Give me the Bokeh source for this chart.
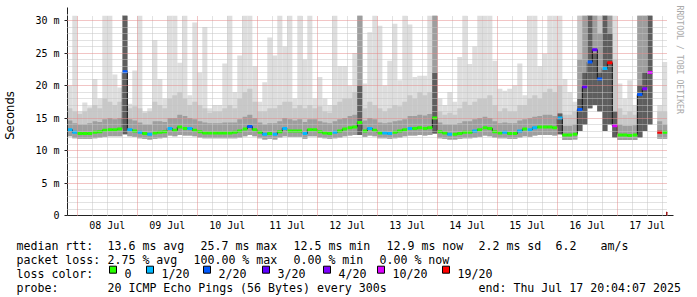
import math
from bokeh.plotting import figure
from bokeh.layouts import column
from bokeh.models import (ColumnDataSource, FixedTicker, Grid, Title, Arrow, NormalHead, Range1d)
from bokeh.core.properties import value
from bokeh.embed import file_html
from bokeh.resources import INLINE

NaN = float("nan")

# ---------------- data: 2-hour bins, hours counted from 07 Jul 00:00 ----------------
FIRST_HOUR = 20
BIN_HOURS = 2

median_ms = [
    13.2, 12.8, 12.6, 12.6, 12.6, 12.8, 12.9, 13.1, 13.2, 13.2,
    13.3, 22.1, 13.2, 13.0, 12.8, 12.6, 12.5, 12.7, 12.8, 12.9,
    13.4, 13.1, 13.6, 13.4, 13.4, 13.1, 12.9, 12.7, 12.7, 12.7,
    12.7, 12.7, 12.7, 12.8, 13.0, 13.3, 13.7, 13.2, 12.8, 12.5,
    12.6, 12.5, 12.9, 13.4, 13.0, 13.0, 13.0, 12.6, 13.2, 13.2,
    12.9, 12.7, 12.6, 12.8, 13.0, 13.3, 13.5, 13.6, 14.3, 13.0,
    13.4, 13.1, 12.7, 12.7, 12.6, 12.8, 13.0, 13.2, 13.4, 13.4,
    13.5, 13.4, 13.5, 15.0, 12.9, 12.7, 12.5, 12.5, 12.6, 12.8,
    12.8, 13.0, 13.2, 13.5, 13.4, 12.9, 12.7, 12.8, 12.6, 12.6,
    13.0, 13.3, 13.2, 13.5, 13.6, 13.6, 13.6, 13.5, 15.0, 12.4,
    12.4, 12.5, 16.3, 19.8, 23.6, 25.5, 21.0, 22.6, 23.5, 13.8,
    12.4, 12.4, 12.3, 12.4, 18.6, 19.5, 22.0, None, 12.8, 12.8,
]
lost_pings = [
    1, 1, 0, 0, 0, 0, 0, 0, 0, 0,
    0, 2, 1, 0, 1, 0, 1, 0, 0, 0,
    1, 0, 0, 0, 1, 0, 0, 0, 0, 0,
    0, 0, 0, 0, 0, 0, 2, 0, 0, 1,
    0, 1, 0, 1, 0, 0, 0, 1, 0, 0,
    0, 0, 0, 1, 0, 0, 0, 0, 0, 0,
    1, 0, 0, 1, 1, 0, 0, 0, 1, 0,
    0, 0, 0, 0, 0, 0, 1, 0, 0, 0,
    0, 1, 0, 0, 0, 0, 0, 1, 0, 0,
    1, 0, 1, 1, 0, 0, 0, 0, 1, 0,
    0, 0, 2, 3, 2, 3, 2, 1, 19, 10,
    0, 0, 0, 0, 2, 4, 10, 0, 19, 0,
]
smoke_min = [
    12.2, 11.9, 11.8, 11.8, 11.8, 11.9, 12.0, 12.1, 12.2, 12.2,
    12.2, 12.5, 12.2, 12.1, 11.9, 11.8, 11.7, 11.8, 11.9, 12.0,
    12.3, 12.2, 12.4, 12.3, 12.3, 12.2, 12.0, 11.9, 11.9, 11.9,
    11.9, 11.9, 11.9, 11.9, 12.0, 12.2, 12.4, 12.2, 11.9, 11.7,
    11.8, 11.7, 12.0, 12.2, 12.1, 12.1, 12.1, 11.8, 12.2, 12.2,
    12.0, 11.9, 11.8, 11.9, 12.0, 12.2, 12.3, 12.4, 12.4, 12.1,
    12.3, 12.2, 11.9, 11.9, 11.8, 11.9, 12.0, 12.2, 12.3, 12.3,
    12.4, 12.3, 12.4, 12.6, 11.9, 11.8, 11.7, 11.7, 11.8, 11.9,
    11.9, 12.0, 12.1, 12.3, 12.2, 12.0, 11.9, 11.9, 11.8, 11.8,
    12.0, 12.2, 12.1, 12.3, 12.4, 12.4, 12.4, 12.3, 12.5, 11.6,
    11.6, 11.7, 13.0, 14.0, 16.5, 17.0, 16.0, 13.0, 14.0, 12.0,
    11.6, 11.6, 11.6, 11.6, 12.0, 13.0, 14.0, None, 11.8, 11.8,
]
smoke_p75 = [
    14.6, 14.2, 14.0, 14.0, 14.2, 14.5, 14.4, 14.8, 15.0, 14.8,
    15.0, 31.0, 14.8, 14.6, 14.3, 14.0, 14.0, 14.5, 14.5, 14.4,
    15.0, 15.0, 15.5, 15.3, 15.0, 14.8, 14.5, 14.3, 14.2, 14.2,
    14.2, 14.3, 14.3, 14.3, 14.8, 15.2, 15.5, 15.0, 14.3, 14.0,
    14.2, 14.2, 14.5, 15.0, 14.8, 14.6, 14.8, 14.4, 14.8, 14.8,
    14.5, 14.3, 14.2, 14.5, 14.8, 15.0, 15.3, 15.5, 31.0, 14.6,
    15.0, 14.8, 14.3, 14.2, 14.3, 14.5, 14.6, 14.8, 15.3, 15.3,
    15.5, 15.4, 15.6, 31.0, 14.3, 14.0, 14.0, 14.0, 14.2, 14.5,
    14.5, 14.8, 15.0, 15.2, 15.0, 14.5, 14.2, 14.3, 14.2, 14.2,
    14.6, 14.8, 15.0, 15.2, 15.3, 15.5, 15.5, 15.3, 15.7, 13.8,
    13.8, 14.0, 24.0, 31.0, 31.0, 31.0, 28.0, 31.0, 31.0, 16.0,
    14.0, 13.8, 13.8, 13.9, 31.0, 31.0, 31.0, None, 14.5, 14.0,
]
smoke_p90 = [
    16.5, 16.0, 15.6, 16.0, 16.5, 17.0, 16.5, 18.0, 17.5, 17.0,
    17.5, 31.0, 16.5, 16.8, 16.5, 15.8, 16.0, 17.5, 17.0, 16.5,
    18.0, 18.5, 19.0, 18.0, 17.0, 17.5, 17.0, 16.5, 15.8, 16.0,
    16.0, 16.5, 17.0, 16.5, 18.0, 19.0, 19.5, 17.5, 16.0, 16.0,
    16.5, 16.5, 17.0, 17.5, 17.5, 16.5, 17.0, 16.5, 17.0, 16.5,
    16.8, 16.0, 15.8, 17.0, 17.5, 18.0, 18.0, 19.0, 31.0, 16.5,
    17.5, 17.0, 16.5, 16.0, 16.5, 17.0, 16.8, 17.5, 18.5, 18.0,
    19.0, 18.5, 19.0, 31.0, 16.0, 15.5, 15.8, 15.5, 16.5, 17.5,
    17.0, 17.5, 18.0, 18.0, 18.5, 17.0, 16.0, 16.5, 16.0, 16.0,
    17.0, 17.0, 18.0, 18.5, 18.0, 19.0, 19.5, 19.0, 20.0, 15.5,
    15.5, 16.0, 31.0, 31.0, 31.0, 31.0, 31.0, 31.0, 31.0, 24.0,
    16.5, 15.5, 16.0, 15.5, 31.0, 31.0, 31.0, None, 16.0, 16.0,
]
smoke_max = [
    20.0, 31.0, 16.0, 17.4, 16.8, 21.0, 18.0, 31.0, 31.0, 21.7,
    19.7, 31.0, 17.2, 22.3, 31.0, 16.0, 16.5, 27.0, 21.0, 18.0,
    31.0, 31.0, 23.5, 31.0, 18.5, 29.7, 22.0, 29.0, 16.5, 17.0,
    17.0, 23.4, 31.0, 19.0, 24.6, 31.0, 31.0, 23.0, 17.5, 20.5,
    27.4, 24.6, 31.0, 26.0, 31.0, 18.0, 31.0, 24.0, 31.0, 18.0,
    21.3, 18.0, 17.0, 31.0, 23.0, 23.0, 20.0, 25.0, 31.0, 20.3,
    28.2, 31.0, 29.2, 20.0, 23.8, 29.5, 20.8, 31.0, 29.4, 21.3,
    21.5, 21.5, 31.0, 31.0, 18.0, 17.0, 19.0, 17.5, 24.4, 31.0,
    23.3, 26.0, 31.0, 31.0, 31.0, 23.8, 19.5, 19.2, 19.5, 20.0,
    23.4, 18.5, 31.0, 31.0, 23.0, 24.9, 31.0, 31.0, 31.0, 21.0,
    19.0, 17.5, 31.0, 31.0, 31.0, 31.0, 31.0, 31.0, 31.0, 31.0,
    20.3, 18.0, 20.8, 17.0, 31.0, 31.0, 31.0, None, 17.0, 23.6,
]
smoke_core = [
    None, None, None, None, None, None, None, None, None, None,
    None, 31.0, None, None, None, None, None, None, None, None,
    None, None, None, None, None, None, None, None, None, None,
    None, None, None, None, None, None, None, None, None, None,
    None, None, None, None, None, None, None, None, None, None,
    None, None, None, None, None, None, None, None, 20.0, None,
    None, None, None, None, None, None, None, None, None, None,
    None, None, None, 22.0, None, None, None, None, None, None,
    None, None, None, None, None, None, None, None, None, None,
    None, None, None, None, None, None, None, None, 15.7, None,
    None, None, 18.0, 22.0, 31.0, 25.0, 22.0, 31.0, 28.0, 16.0,
    None, None, None, None, 20.0, 22.0, 31.0, None, None, None,
]

day_ticks = [36, 60, 84, 108, 132, 156, 180, 204, 228, 252]
day_labels = ["08 Jul", "09 Jul", "10 Jul", "11 Jul", "12 Jul",
              "13 Jul", "14 Jul", "15 Jul", "16 Jul", "17 Jul"]
y_ticks = [0, 5, 10, 15, 20, 25, 30]
y_labels = ["0", "5 m", "10 m", "15 m", "20 m", "25 m", "30 m"]

loss_levels = [0, 1, 2, 3, 4, 10, 19]
loss_names = ["0", "1/20", "2/20", "3/20", "4/20", "10/20", "19/20"]
loss_colors = ["#26ff00", "#00b8ff", "#0059ff", "#5e00ff", "#7e00ff", "#dd00ff", "#ff0000"]

rtt_row = ["median rtt:", "13.6 ms avg", "25.7 ms max", "12.5 ms min", "12.9 ms now",
           "2.2 ms sd", "6.2", "am/s"]
loss_row = ["packet loss:", "2.75 % avg", "100.00 % max", "0.00 % min", "0.00 % now"]
probe_row = ["probe:", "20 ICMP Echo Pings (56 Bytes) every 300s", "end: Thu Jul 17 20:04:07 2025"]

# ---------------- layout constants (canvas pixels) ----------------
CANVAS_W, CANVAS_H = 697, 297
FRAME_L, FRAME_T, FRAME_W, FRAME_H = 67, 15, 600, 200
MAIN_H = 235
X_START = 20 + 4 / 60 + 7 / 3600
X_END = X_START + 240
Y_TOP = 30.77
MONO = "DejaVu Sans Mono"

def nz(v):
    return NaN if v is None else v

def loss_color(k):
    col = loss_colors[0]
    for lev, c in zip(loss_levels, loss_colors):
        if k >= lev:
            col = c
    return col

n = len(median_ms)
xs = [FIRST_HOUR + BIN_HOURS * (i + 0.5) for i in range(n)]
src = ColumnDataSource(dict(
    x=xs,
    med=[nz(v) for v in median_ms],
    lo=[nz(v) for v in smoke_min],
    p75=[nz(v) for v in smoke_p75],
    p90=[nz(v) for v in smoke_p90],
    mx=[nz(v) for v in smoke_max],
    core=[nz(v) for v in smoke_core],
    color=[loss_color(k) for k in lost_pings],
))

p = figure(frame_width=FRAME_W, frame_height=FRAME_H,
           x_range=Range1d(X_START, X_END), y_range=Range1d(0, Y_TOP),
           output_backend="svg", toolbar_location=None,
           min_border_left=FRAME_L, min_border_right=CANVAS_W - FRAME_L - FRAME_W,
           min_border_top=FRAME_T, min_border_bottom=MAIN_H - FRAME_T - FRAME_H,
           background_fill_color="white", border_fill_color="white",
           outline_line_color=None)
p.xgrid.visible = False
p.ygrid.visible = False

W = BIN_HOURS * 1.02
p.vbar(x="x", width=W, bottom="lo", top="mx", source=src, fill_color="#dedede", line_color=None)
p.vbar(x="x", width=W, bottom="lo", top="p90", source=src, fill_color="#c8c8c8", line_color=None)
p.vbar(x="x", width=W, bottom="lo", top="p75", source=src, fill_color="#9e9e9e", line_color=None)
p.vbar(x="x", width=W, bottom="lo", top="core", source=src, fill_color="#5e5e5e", line_color=None)
p.step(x="x", y="med", mode="center", source=src, line_color="#111111", line_width=1)
p.rect(x="x", y="med", width=W, height=3, height_units="screen", source=src,
       fill_color="color", line_color=None)

# grids (drawn on top like rrdtool)
minor_x = [h for h in range(24, 260, 6) if h % 24 != 0]
major_x = [h for h in range(24, 260, 24)]
minor_y = [v for v in range(1, 31) if v % 5 != 0]
major_y = [v for v in range(5, 31, 5)]
for dim, ticks, col in [(0, minor_x, "#c4c4c4"), (1, minor_y, "#c4c4c4"),
                        (0, major_x, "#e48a8a"), (1, major_y, "#e48a8a")]:
    p.add_layout(Grid(dimension=dim, ticker=FixedTicker(ticks=ticks),
                      grid_line_color=col, grid_line_dash="1 1", grid_line_width=1,
                      level="guide"))

xa = p.xaxis[0]
xa.ticker = FixedTicker(ticks=day_ticks, minor_ticks=[])
xa.major_label_overrides = dict(zip(day_ticks, day_labels))
xa.major_tick_out = 0
xa.major_tick_in = 0
xa.minor_tick_out = 0
xa.minor_tick_in = 0
xa.major_label_standoff = 4
xa.major_label_text_font = MONO
xa.major_label_text_font_size = "10px"
xa.major_label_text_color = "black"
xa.axis_line_color = "#222222"

ya = p.yaxis[0]
ya.ticker = FixedTicker(ticks=y_ticks, minor_ticks=[])
ya.major_label_overrides = dict(zip(y_ticks, y_labels))
ya.major_tick_out = 3
ya.major_tick_in = 0
ya.minor_tick_out = 0
ya.minor_tick_in = 0
ya.major_tick_line_color = "#222222"
ya.major_label_standoff = 5
ya.major_label_text_font = MONO
ya.major_label_text_font_size = "10px"
ya.major_label_text_color = "black"
ya.axis_line_color = "#222222"
ya.axis_label = "Seconds"
ya.axis_label_text_font = "DejaVu Sans"
ya.axis_label_text_font_size = "11.6px"
ya.axis_label_text_font_style = "normal"
ya.axis_label_text_color = "black"
ya.axis_label_standoff = 15

p.add_layout(Title(text="RRDTOOL / TOBI OETIKER", align="left", offset=-10, standoff=15,
                   text_font=MONO, text_font_size="8.2px", text_font_style="normal",
                   text_color="#aaaaaa"), "right")

# axis arrows (screen units relative to frame)
p.add_layout(Arrow(x_start=FRAME_W, y_start=0, x_end=FRAME_W + 6, y_end=0,
                   start_units="screen", end_units="screen", line_color="#222222",
                   end=NormalHead(size=7, fill_color="#a01818", line_color="#a01818")))
p.add_layout(Arrow(x_start=0, y_start=FRAME_H, x_end=0, y_end=FRAME_H + 8,
                   start_units="screen", end_units="screen", line_color="#222222",
                   end=NormalHead(size=7, fill_color="#a01818", line_color="#a01818")))

# ---------------- statistics / legend block (1 data unit = 1 canvas pixel) ----------------
lg = figure(width=CANVAS_W, height=CANVAS_H - MAIN_H,
            x_range=Range1d(0, CANVAS_W), y_range=Range1d(CANVAS_H, MAIN_H),
            x_axis_location=None, y_axis_location=None,
            output_backend="svg", toolbar_location=None,
            min_border=0, background_fill_color="white", border_fill_color="white",
            outline_line_color=None)
lg.xgrid.visible = False
lg.ygrid.visible = False
for fig in (p, lg):
    try:
        fig.frame_align = False
    except Exception:
        pass

rows = [
    (245.3, [16, 107, 200, 293, 386, 478, 555, 600], rtt_row),
    (259.3, [16, 107, 193, 293, 379], loss_row),
    (273.3, [16], ["loss color:"]),
    (287.3, [16, 107, 478], probe_row),
]
tx, ty, tt = [], [], []
for yb, xpos, texts in rows:
    for xp, t in zip(xpos, texts):
        tx.append(xp); ty.append(yb); tt.append(t)
sq_x = [109, 146, 203, 262, 323, 377, 442]
for sx, name in zip(sq_x, loss_names):
    tx.append(sx + 15); ty.append(273.3); tt.append(name)
lg.text(x=tx, y=ty, text=tt, text_font=value(MONO), text_font_size="11.6px",
        text_color="black", text_baseline="alphabetic", text_align="left")
lg.rect(x=[sx + 3.5 for sx in sq_x], y=[269.2] * len(sq_x), width=7, height=7,
        fill_color=loss_colors, line_color="black", line_width=1)

layout = column(p, lg, spacing=0)
open("out.html", "w").write(file_html(layout, INLINE))
